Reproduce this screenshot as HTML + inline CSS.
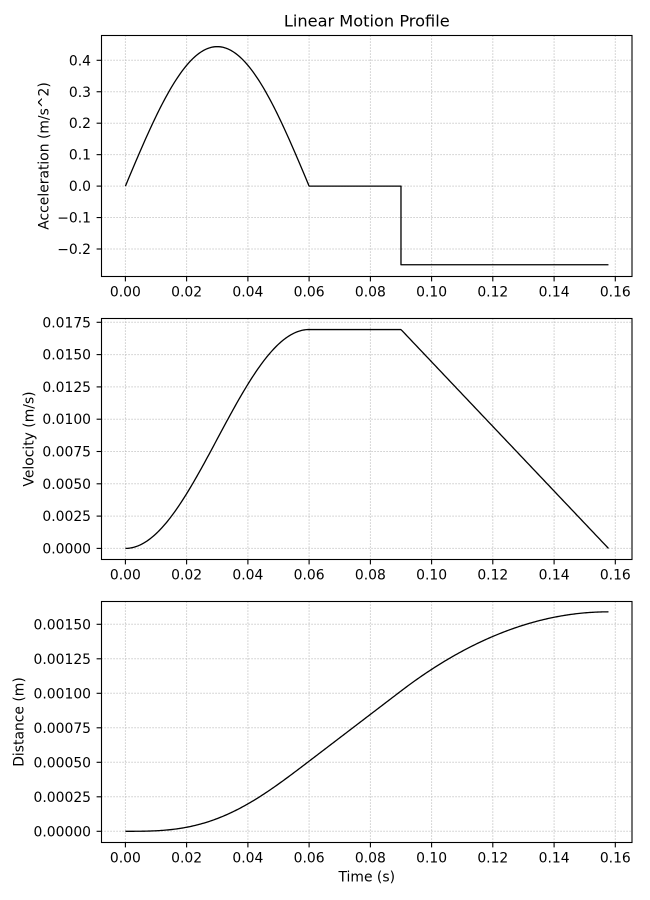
<!DOCTYPE html>
<html>
<head>
<meta charset="utf-8">
<style>
html,body{margin:0;padding:0;background:#fff;}
svg{display:block;}
text{font-family:"DejaVu Sans","Liberation Sans",sans-serif;fill:#000;}
.tk{font-size:13.9px;}
.grid line{stroke:#b8b8b8;stroke-width:1;stroke-dasharray:1.1,1.9;}
.frame{fill:none;stroke:#000;stroke-width:1.1;}
.tick line{stroke:#000;stroke-width:1.1;}
.curve{fill:none;stroke:#000;stroke-width:1.3;stroke-linejoin:round;}
</style>
</head>
<body>
<svg width="650" height="900" viewBox="0 0 650 900" xmlns="http://www.w3.org/2000/svg">
<rect width="650" height="900" fill="#fff"/>

<!-- Title -->
<text x="366.75" y="26.5" text-anchor="middle" style="font-size:16.2px">Linear Motion Profile</text>

<!-- ============ PLOT 1 ============ -->
<g class="grid">
  <line x1="125.4" y1="35.5" x2="125.4" y2="276.5"/>
  <line x1="186.6" y1="35.5" x2="186.6" y2="276.5"/>
  <line x1="247.9" y1="35.5" x2="247.9" y2="276.5"/>
  <line x1="309.1" y1="35.5" x2="309.1" y2="276.5"/>
  <line x1="370.4" y1="35.5" x2="370.4" y2="276.5"/>
  <line x1="431.6" y1="35.5" x2="431.6" y2="276.5"/>
  <line x1="492.8" y1="35.5" x2="492.8" y2="276.5"/>
  <line x1="554.1" y1="35.5" x2="554.1" y2="276.5"/>
  <line x1="615.3" y1="35.5" x2="615.3" y2="276.5"/>
  <line x1="101.5" y1="60.3" x2="632" y2="60.3"/>
  <line x1="101.5" y1="91.75" x2="632" y2="91.75"/>
  <line x1="101.5" y1="123.2" x2="632" y2="123.2"/>
  <line x1="101.5" y1="154.65" x2="632" y2="154.65"/>
  <line x1="101.5" y1="186.1" x2="632" y2="186.1"/>
  <line x1="101.5" y1="217.55" x2="632" y2="217.55"/>
  <line x1="101.5" y1="249" x2="632" y2="249"/>
</g>
<path id="c1" class="curve" d=""/>
<rect class="frame" x="101.5" y="35.5" width="530.5" height="241"/>
<g class="tick">
  <line x1="125.4" y1="276.5" x2="125.4" y2="281.4"/>
  <line x1="186.6" y1="276.5" x2="186.6" y2="281.4"/>
  <line x1="247.9" y1="276.5" x2="247.9" y2="281.4"/>
  <line x1="309.1" y1="276.5" x2="309.1" y2="281.4"/>
  <line x1="370.4" y1="276.5" x2="370.4" y2="281.4"/>
  <line x1="431.6" y1="276.5" x2="431.6" y2="281.4"/>
  <line x1="492.8" y1="276.5" x2="492.8" y2="281.4"/>
  <line x1="554.1" y1="276.5" x2="554.1" y2="281.4"/>
  <line x1="615.3" y1="276.5" x2="615.3" y2="281.4"/>
  <line x1="96.6" y1="60.3" x2="101.5" y2="60.3"/>
  <line x1="96.6" y1="91.75" x2="101.5" y2="91.75"/>
  <line x1="96.6" y1="123.2" x2="101.5" y2="123.2"/>
  <line x1="96.6" y1="154.65" x2="101.5" y2="154.65"/>
  <line x1="96.6" y1="186.1" x2="101.5" y2="186.1"/>
  <line x1="96.6" y1="217.55" x2="101.5" y2="217.55"/>
  <line x1="96.6" y1="249" x2="101.5" y2="249"/>
</g>
<g class="tk" text-anchor="middle">
  <text x="125.4" y="296.5">0.00</text>
  <text x="186.6" y="296.5">0.02</text>
  <text x="247.9" y="296.5">0.04</text>
  <text x="309.1" y="296.5">0.06</text>
  <text x="370.4" y="296.5">0.08</text>
  <text x="431.6" y="296.5">0.10</text>
  <text x="492.8" y="296.5">0.12</text>
  <text x="554.1" y="296.5">0.14</text>
  <text x="615.3" y="296.5">0.16</text>
</g>
<g class="tk" text-anchor="end">
  <text x="91" y="65.3">0.4</text>
  <text x="91" y="96.75">0.3</text>
  <text x="91" y="128.2">0.2</text>
  <text x="91" y="159.65">0.1</text>
  <text x="91" y="191.1">0.0</text>
  <text x="91" y="222.55">−0.1</text>
  <text x="91" y="254">−0.2</text>
</g>
<text class="tk" transform="translate(48.5,156) rotate(-90)" text-anchor="middle">Acceleration (m/s^2)</text>

<!-- ============ PLOT 2 ============ -->
<g class="grid">
  <line x1="125.4" y1="318.5" x2="125.4" y2="559.5"/>
  <line x1="186.6" y1="318.5" x2="186.6" y2="559.5"/>
  <line x1="247.9" y1="318.5" x2="247.9" y2="559.5"/>
  <line x1="309.1" y1="318.5" x2="309.1" y2="559.5"/>
  <line x1="370.4" y1="318.5" x2="370.4" y2="559.5"/>
  <line x1="431.6" y1="318.5" x2="431.6" y2="559.5"/>
  <line x1="492.8" y1="318.5" x2="492.8" y2="559.5"/>
  <line x1="554.1" y1="318.5" x2="554.1" y2="559.5"/>
  <line x1="615.3" y1="318.5" x2="615.3" y2="559.5"/>
  <line x1="101.5" y1="322.3" x2="632" y2="322.3"/>
  <line x1="101.5" y1="354.6" x2="632" y2="354.6"/>
  <line x1="101.5" y1="386.9" x2="632" y2="386.9"/>
  <line x1="101.5" y1="419.2" x2="632" y2="419.2"/>
  <line x1="101.5" y1="451.5" x2="632" y2="451.5"/>
  <line x1="101.5" y1="483.8" x2="632" y2="483.8"/>
  <line x1="101.5" y1="516.1" x2="632" y2="516.1"/>
  <line x1="101.5" y1="548.4" x2="632" y2="548.4"/>
</g>
<path id="c2" class="curve" d=""/>
<rect class="frame" x="101.5" y="318.5" width="530.5" height="241"/>
<g class="tick">
  <line x1="125.4" y1="559.5" x2="125.4" y2="564.4"/>
  <line x1="186.6" y1="559.5" x2="186.6" y2="564.4"/>
  <line x1="247.9" y1="559.5" x2="247.9" y2="564.4"/>
  <line x1="309.1" y1="559.5" x2="309.1" y2="564.4"/>
  <line x1="370.4" y1="559.5" x2="370.4" y2="564.4"/>
  <line x1="431.6" y1="559.5" x2="431.6" y2="564.4"/>
  <line x1="492.8" y1="559.5" x2="492.8" y2="564.4"/>
  <line x1="554.1" y1="559.5" x2="554.1" y2="564.4"/>
  <line x1="615.3" y1="559.5" x2="615.3" y2="564.4"/>
  <line x1="96.6" y1="322.3" x2="101.5" y2="322.3"/>
  <line x1="96.6" y1="354.6" x2="101.5" y2="354.6"/>
  <line x1="96.6" y1="386.9" x2="101.5" y2="386.9"/>
  <line x1="96.6" y1="419.2" x2="101.5" y2="419.2"/>
  <line x1="96.6" y1="451.5" x2="101.5" y2="451.5"/>
  <line x1="96.6" y1="483.8" x2="101.5" y2="483.8"/>
  <line x1="96.6" y1="516.1" x2="101.5" y2="516.1"/>
  <line x1="96.6" y1="548.4" x2="101.5" y2="548.4"/>
</g>
<g class="tk" text-anchor="middle">
  <text x="125.4" y="579.5">0.00</text>
  <text x="186.6" y="579.5">0.02</text>
  <text x="247.9" y="579.5">0.04</text>
  <text x="309.1" y="579.5">0.06</text>
  <text x="370.4" y="579.5">0.08</text>
  <text x="431.6" y="579.5">0.10</text>
  <text x="492.8" y="579.5">0.12</text>
  <text x="554.1" y="579.5">0.14</text>
  <text x="615.3" y="579.5">0.16</text>
</g>
<g class="tk" text-anchor="end">
  <text x="91" y="327.3">0.0175</text>
  <text x="91" y="359.6">0.0150</text>
  <text x="91" y="391.9">0.0125</text>
  <text x="91" y="424.2">0.0100</text>
  <text x="91" y="456.5">0.0075</text>
  <text x="91" y="488.8">0.0050</text>
  <text x="91" y="521.1">0.0025</text>
  <text x="91" y="553.4">0.0000</text>
</g>
<text class="tk" transform="translate(33.5,439) rotate(-90)" text-anchor="middle">Velocity (m/s)</text>

<!-- ============ PLOT 3 ============ -->
<g class="grid">
  <line x1="125.4" y1="601.5" x2="125.4" y2="842.5"/>
  <line x1="186.6" y1="601.5" x2="186.6" y2="842.5"/>
  <line x1="247.9" y1="601.5" x2="247.9" y2="842.5"/>
  <line x1="309.1" y1="601.5" x2="309.1" y2="842.5"/>
  <line x1="370.4" y1="601.5" x2="370.4" y2="842.5"/>
  <line x1="431.6" y1="601.5" x2="431.6" y2="842.5"/>
  <line x1="492.8" y1="601.5" x2="492.8" y2="842.5"/>
  <line x1="554.1" y1="601.5" x2="554.1" y2="842.5"/>
  <line x1="615.3" y1="601.5" x2="615.3" y2="842.5"/>
  <line x1="101.5" y1="624.3" x2="632" y2="624.3"/>
  <line x1="101.5" y1="658.8" x2="632" y2="658.8"/>
  <line x1="101.5" y1="693.3" x2="632" y2="693.3"/>
  <line x1="101.5" y1="727.8" x2="632" y2="727.8"/>
  <line x1="101.5" y1="762.3" x2="632" y2="762.3"/>
  <line x1="101.5" y1="796.8" x2="632" y2="796.8"/>
  <line x1="101.5" y1="831.3" x2="632" y2="831.3"/>
</g>
<path id="c3" class="curve" d=""/>
<rect class="frame" x="101.5" y="601.5" width="530.5" height="241"/>
<g class="tick">
  <line x1="125.4" y1="842.5" x2="125.4" y2="847.4"/>
  <line x1="186.6" y1="842.5" x2="186.6" y2="847.4"/>
  <line x1="247.9" y1="842.5" x2="247.9" y2="847.4"/>
  <line x1="309.1" y1="842.5" x2="309.1" y2="847.4"/>
  <line x1="370.4" y1="842.5" x2="370.4" y2="847.4"/>
  <line x1="431.6" y1="842.5" x2="431.6" y2="847.4"/>
  <line x1="492.8" y1="842.5" x2="492.8" y2="847.4"/>
  <line x1="554.1" y1="842.5" x2="554.1" y2="847.4"/>
  <line x1="615.3" y1="842.5" x2="615.3" y2="847.4"/>
  <line x1="96.6" y1="624.3" x2="101.5" y2="624.3"/>
  <line x1="96.6" y1="658.8" x2="101.5" y2="658.8"/>
  <line x1="96.6" y1="693.3" x2="101.5" y2="693.3"/>
  <line x1="96.6" y1="727.8" x2="101.5" y2="727.8"/>
  <line x1="96.6" y1="762.3" x2="101.5" y2="762.3"/>
  <line x1="96.6" y1="796.8" x2="101.5" y2="796.8"/>
  <line x1="96.6" y1="831.3" x2="101.5" y2="831.3"/>
</g>
<g class="tk" text-anchor="middle">
  <text x="125.4" y="862.5">0.00</text>
  <text x="186.6" y="862.5">0.02</text>
  <text x="247.9" y="862.5">0.04</text>
  <text x="309.1" y="862.5">0.06</text>
  <text x="370.4" y="862.5">0.08</text>
  <text x="431.6" y="862.5">0.10</text>
  <text x="492.8" y="862.5">0.12</text>
  <text x="554.1" y="862.5">0.14</text>
  <text x="615.3" y="862.5">0.16</text>
</g>
<g class="tk" text-anchor="end">
  <text x="91" y="629.3">0.00150</text>
  <text x="91" y="663.8">0.00125</text>
  <text x="91" y="698.3">0.00100</text>
  <text x="91" y="732.8">0.00075</text>
  <text x="91" y="767.3">0.00050</text>
  <text x="91" y="801.8">0.00025</text>
  <text x="91" y="836.3">0.00000</text>
</g>
<text class="tk" transform="translate(23.5,722) rotate(-90)" text-anchor="middle">Distance (m)</text>
<text class="tk" x="366.75" y="881.5" text-anchor="middle">Time (s)</text>
</svg>

<script>
(function(){
  var T=0.06, vmax=0.01694, A=vmax*Math.PI/(2*T), dec=0.25;
  var t2=0.09, tend=t2+vmax/dec;
  function X(t){return 125.4+t*3062;}
  function Y1(v){return 186.1-314.5*v;}
  function Y2(v){return 548.4-12920*v;}
  function Y3(v){return 831.3-138000*v;}
  var d1=A*T*T/Math.PI, d2=d1+vmax*(t2-T);
  function acc(t){ if(t<=T) return A*Math.sin(Math.PI*t/T); if(t<=t2) return 0; return -dec; }
  function vel(t){ if(t<=T) return A*T/Math.PI*(1-Math.cos(Math.PI*t/T)); if(t<=t2) return vmax; return vmax-dec*(t-t2); }
  function dist(t){ if(t<=T) return A*T/Math.PI*(t-T/Math.PI*Math.sin(Math.PI*t/T)); if(t<=t2) return d1+vmax*(t-T); var s=t-t2; return d2+vmax*s-0.5*dec*s*s; }
  var n=400, p1=[], p2=[], p3=[];
  for(var i=0;i<=n;i++){
    var t=tend*i/n;
    p1.push(X(t).toFixed(2)+','+Y1(acc(t)).toFixed(2));
    p2.push(X(t).toFixed(2)+','+Y2(vel(t)).toFixed(2));
    p3.push(X(t).toFixed(2)+','+Y3(dist(t)).toFixed(2));
  }
  // acceleration: build with exact corners
  var a=[];
  for(var j=0;j<=120;j++){var tt=T*j/120; a.push(X(tt).toFixed(2)+','+Y1(acc(tt)).toFixed(2));}
  a.push(X(t2).toFixed(2)+','+Y1(0).toFixed(2));
  a.push(X(t2).toFixed(2)+','+Y1(-dec).toFixed(2));
  a.push(X(tend).toFixed(2)+','+Y1(-dec).toFixed(2));
  document.getElementById('c1').setAttribute('d','M'+a.join(' L'));
  document.getElementById('c2').setAttribute('d','M'+p2.join(' L'));
  document.getElementById('c3').setAttribute('d','M'+p3.join(' L'));
})();
</script>
</body>
</html>
